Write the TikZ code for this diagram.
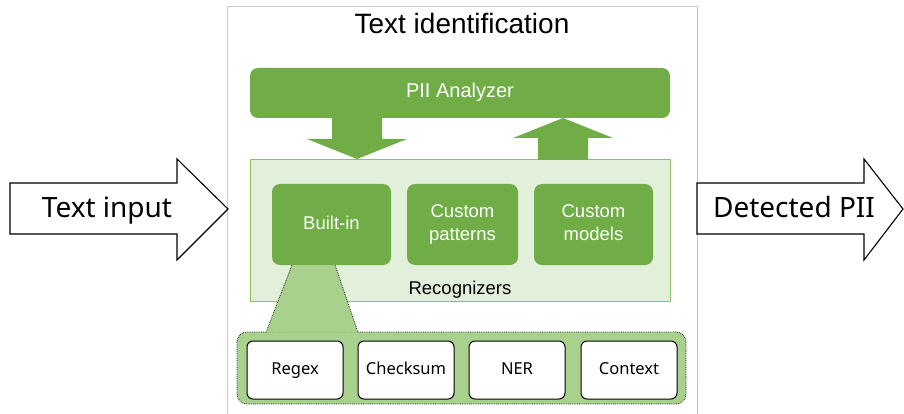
\documentclass[tikz,border=0pt]{standalone}
\usepackage{fontspec}
\setmainfont{Liberation Sans}
\newfontfamily\segoe{Noto Sans}
\usetikzlibrary{calc}
\definecolor{gdark}{HTML}{70AD47}
\definecolor{glight}{HTML}{E2EFDA}
\definecolor{gmid}{HTML}{A9D18E}
\definecolor{gborder}{HTML}{8CC16A}
\definecolor{framegray}{HTML}{C8C8C8}
\begin{document}
\begin{tikzpicture}[x=1pt,y=-1pt,
  box/.style={anchor=north west,inner sep=0pt,outer sep=0pt,align=center},
  greenbox/.style={box,rounded corners=8pt,fill=gdark,text=white,font=\fontsize{18.5}{23}\selectfont,minimum height=81pt},
  whitebox/.style={box,rounded corners=6pt,fill=white,draw=black,line width=1pt,font=\segoe\fontsize{16.5}{20}\selectfont,minimum width=96pt,minimum height=58pt},
  bigarrow/.style={draw=black,fill=white,line width=1.1pt},
  greenarrow/.style={fill=gdark},
  dotline/.style={draw=black!85,line width=0.8pt,densely dotted}]
\useasboundingbox (0,0) rectangle (904,414);
% outer frame
\draw[framegray,line width=1pt] (227,416) -- (227,7) -- (697,7) -- (697,416);
\node[font=\fontsize{28}{32}\selectfont] (title) at (462,27) {\strut Text identification};
% recognizers panel
\node[box,fill=glight,draw=gborder,line width=1pt,minimum width=420pt,minimum height=141pt] (panel) at (250,160) {};
\node[font=\fontsize{18.5}{23}\selectfont] (reclabel) at (460,290) {\strut Recognizers};
% PII analyzer
\node[greenbox,minimum width=420pt,minimum height=50pt,font=\fontsize{20}{24}\selectfont] (pii) at (250,68) {\strut PII Analyzer};
% down / up arrows
\fill[greenarrow] (332,118) -- (382,118) -- (382,139) -- (407,139) -- (357,159) -- (307,139) -- (332,139) -- cycle;
\fill[greenarrow] (538,160) -- (538,138) -- (513,138) -- (563,118) -- (613,138) -- (588,138) -- (588,160) -- cycle;
% recognizer boxes
\node[greenbox,minimum width=119pt] (builtin) at (272,184) {\strut Built-in};
\node[greenbox,minimum width=111pt] (cpat) at (407,184) {\strut Custom\\\strut patterns};
\node[greenbox,minimum width=119pt] (cmod) at (534,184) {\strut Custom\\\strut models};
% container
\node[box,rounded corners=10pt,fill=gmid,dotline,minimum width=449pt,minimum height=72pt] (cont) at (237,332) {};
% trapezoid
\coordinate (t1) at ($(builtin.south west)+(20,0)$);
\coordinate (t2) at ($(builtin.south west)+(63,0)$);
\coordinate (t3) at (358,332.5);
\coordinate (t4) at (266,332.5);
\fill[gmid] (t1) -- (t2) -- (t3) -- (t4) -- cycle;
\draw[dotline] (t1) -- (t4);
\draw[dotline] (t2) -- (t3);
% method boxes
\node[whitebox] (regex) at (247,341) {\strut Regex};
\node[whitebox] (checksum) at (358,341) {\strut Checksum};
\node[whitebox] (ner) at (469,341) {\strut NER};
\node[whitebox] (context) at (581,341) {\strut Context};
% side arrows
\draw[bigarrow] (10,183) -- (177,183) -- (177,159) -- (228,209) -- (177,260) -- (177,234) -- (10,234) -- cycle;
\node[font=\segoe\fontsize{28}{32}\selectfont] (tin) at (107,211) {\strut Text input};
\draw[bigarrow] (697,183) -- (864,183) -- (864,159) -- (903,209) -- (864,260) -- (864,234) -- (697,234) -- cycle;
\node[font=\segoe\fontsize{28}{32}\selectfont] (tout) at (794,211) {\strut Detected PII};
\end{tikzpicture}
\end{document}
